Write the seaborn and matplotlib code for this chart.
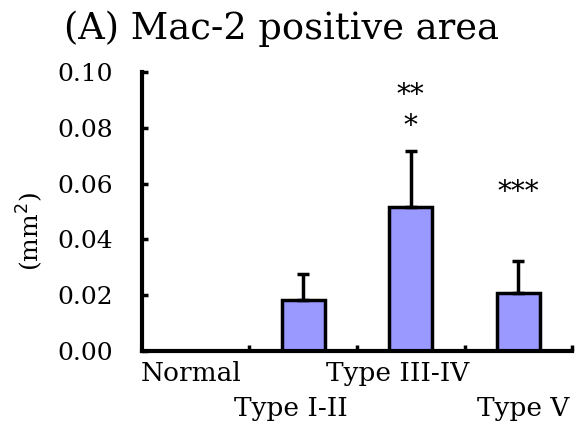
import matplotlib
matplotlib.use("Agg")
import matplotlib.pyplot as plt
import matplotlib.transforms as mtransforms
import seaborn as sns
import numpy as np
import pandas as pd

categories = ["Normal", "Type I-II", "Type III-IV", "Type V"]
means = [0.0, 0.0183, 0.0516, 0.0208]
sds = [0.0, 0.0093, 0.0201, 0.0115]
stars = ["", "", "**\n*", "***"]
star_y = [None, None, 0.0755, 0.0518]
yticks = [0.00, 0.02, 0.04, 0.06, 0.08, 0.10]

sns.set_style("ticks")
plt.rcParams['font.family'] = ['DejaVu Serif']
plt.rcParams['text.color'] = 'black'
plt.rcParams['xtick.color'] = 'black'
plt.rcParams['ytick.color'] = 'black'
plt.rcParams['axes.labelcolor'] = 'black'
plt.rcParams['axes.edgecolor'] = 'black'

fig = plt.figure(figsize=(5.79, 4.23), dpi=100)
ax = fig.add_axes([0.245, 0.170, 0.743, 0.660])

df = pd.DataFrame({"cat": categories, "val": means})
sns.barplot(data=df, x="cat", y="val", ax=ax, color="#9999FF",
            edgecolor="black", linewidth=2.5, width=0.4, saturation=1)
x = np.arange(len(categories))
ax.errorbar(x[1:], means[1:], yerr=[np.zeros(3), sds[1:]], fmt="none",
            ecolor="black", elinewidth=2.5, capsize=4, capthick=2.5)

for i, s in enumerate(stars):
    if s:
        ax.text(i, star_y[i], s, ha="center", va="bottom",
                fontsize=20, linespacing=1.2)

ax.set_xlim(-0.5, 3.5)
ax.set_ylim(0, 0.10)
ax.set_yticks(yticks)
ax.set_yticklabels([f"{v:.2f}" for v in yticks], fontsize=18)
ax.tick_params(axis="y", direction="in", length=4, width=2.5, pad=21)
ax.set_xticks(x)
ax.set_xticklabels([])
ax.tick_params(axis="x", which="major", length=0)
ax.set_xticks([0.5, 1.5, 2.5, 3.5], minor=True)
ax.tick_params(axis="x", which="minor", direction="in", length=4, width=2.5)

label_dx = [-0.04, -0.11, -0.12, 0.05]
label_dy = [-22, -57, -22, -57]
for i, lab in enumerate(categories):
    tr = ax.get_xaxis_transform() + mtransforms.ScaledTranslation(0, label_dy[i] / 100, fig.dpi_scale_trans)
    ax.text(i + label_dx[i], 0, lab, transform=tr, ha="center", va="center", fontsize=19)

ax.set_xlabel("")
ax.set_ylabel("(mm$^2$)", fontsize=18)
ax.yaxis.set_label_coords(-0.225, 0.427)
for sp in ["top", "right"]:
    ax.spines[sp].set_visible(False)
for sp in ["left", "bottom"]:
    ax.spines[sp].set_linewidth(3)

fig.text(0.486, 0.933, "(A) Mac-2 positive area", ha="center", va="center", fontsize=26.5)

fig.savefig("out.png", dpi=100)
